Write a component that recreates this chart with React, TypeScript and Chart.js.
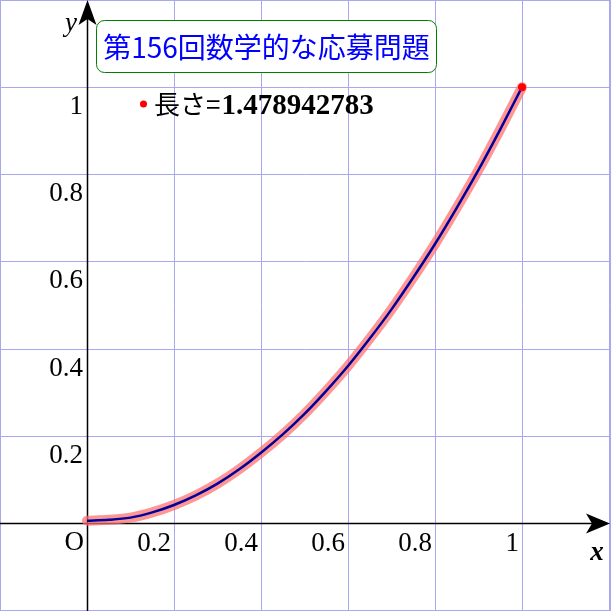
import React, { useEffect, useRef } from "react";
import { Chart, registerables } from "chart.js";

Chart.register(...registerables);

// Curve values
const curveX = [0, 0.05, 0.1, 0.15, 0.2, 0.25, 0.3, 0.35, 0.4, 0.45, 0.5, 0.55, 0.6, 0.65, 0.7, 0.75, 0.8, 0.85, 0.9, 0.95, 1];
const curveY = [0.005, 0.007, 0.012, 0.024, 0.041, 0.063, 0.09, 0.123, 0.161, 0.203, 0.25, 0.303, 0.36, 0.423, 0.49, 0.563, 0.64, 0.723, 0.81, 0.903, 1.0];
const endX = [1];
const endY = [1];

const gridValues = [-0.2, 0, 0.2, 0.4, 0.6, 0.8, 1, 1.2];
const xTickValues = [0.2, 0.4, 0.6, 0.8, 1];
const xTickLabels = ["0.2", "0.4", "0.6", "0.8", "1"];
const yTickValues = [0.2, 0.4, 0.6, 0.8, 1];
const yTickLabels = ["0.2", "0.4", "0.6", "0.8", "1"];

const titleText = "第156回数学的な応募問題";
const legendLabel = "長さ=";
const legendValue = "1.478942783";

const GRID = "#a8a8f0";

const drawPlugin = {
  id: "mathDecor",
  beforeDraw(chart: any) {
    const ctx = chart.ctx;
    ctx.save();
    ctx.fillStyle = "#ffffff";
    ctx.fillRect(0, 0, chart.width, chart.height);
    ctx.restore();
  },
  beforeDatasetsDraw(chart: any) {
    const ctx = chart.ctx;
    const xs = chart.scales.x;
    const ys = chart.scales.y;
    const W = chart.width;
    const H = chart.height;
    ctx.save();
    ctx.strokeStyle = GRID;
    ctx.lineWidth = 1;
    for (const v of gridValues) {
      const px = Math.round(xs.getPixelForValue(v)) + 0.5;
      ctx.beginPath();
      ctx.moveTo(px, 0);
      ctx.lineTo(px, H);
      ctx.stroke();
      const py = Math.round(ys.getPixelForValue(v)) + 0.5;
      ctx.beginPath();
      ctx.moveTo(0, py);
      ctx.lineTo(W, py);
      ctx.stroke();
    }
    ctx.strokeRect(0.5, 0.5, W - 1, H - 1);

    // axes
    const x0 = Math.round(xs.getPixelForValue(0)) + 0.5;
    const y0 = Math.round(ys.getPixelForValue(0)) + 0.5;
    ctx.strokeStyle = "#000000";
    ctx.lineWidth = 1.5;
    ctx.beginPath();
    ctx.moveTo(0, y0);
    ctx.lineTo(W - 14, y0);
    ctx.stroke();
    ctx.beginPath();
    ctx.moveTo(x0, H);
    ctx.lineTo(x0, 14);
    ctx.stroke();
    ctx.fillStyle = "#000000";
    // right arrow
    ctx.beginPath();
    ctx.moveTo(W - 1, y0);
    ctx.lineTo(W - 25, y0 - 10);
    ctx.lineTo(W - 19, y0);
    ctx.lineTo(W - 25, y0 + 10);
    ctx.closePath();
    ctx.fill();
    // top arrow
    ctx.beginPath();
    ctx.moveTo(x0, 0);
    ctx.lineTo(x0 - 9, 25);
    ctx.lineTo(x0, 19);
    ctx.lineTo(x0 + 9, 25);
    ctx.closePath();
    ctx.fill();
    ctx.restore();
  },
  afterDraw(chart: any) {
    const ctx = chart.ctx;
    const xs = chart.scales.x;
    const ys = chart.scales.y;
    const x0 = xs.getPixelForValue(0);
    const y0 = ys.getPixelForValue(0);
    ctx.save();
    ctx.fillStyle = "#000000";
    ctx.font = "27px 'Liberation Serif'";
    ctx.textBaseline = "alphabetic";
    ctx.textAlign = "right";
    xTickValues.forEach((v, i) => {
      ctx.fillText(xTickLabels[i], xs.getPixelForValue(v) - 3, y0 + 28);
    });
    yTickValues.forEach((v, i) => {
      ctx.fillText(yTickLabels[i], x0 - 4, ys.getPixelForValue(v) + 27);
    });
    ctx.fillText("O", x0 - 3, y0 + 27);

    // axis names
    ctx.textAlign = "center";
    ctx.font = "italic bold 27px 'Liberation Serif'";
    ctx.fillText("x", 597, 560);
    ctx.font = "italic 27px 'Liberation Serif'";
    ctx.fillText("y", 71, 31);

    // title box
    ctx.beginPath();
    ctx.roundRect(96.5, 20.5, 340, 52, 8);
    ctx.fillStyle = "#ffffff";
    ctx.fill();
    ctx.strokeStyle = "#008000";
    ctx.lineWidth = 1;
    ctx.stroke();
    ctx.fillStyle = "#0000ff";
    ctx.font = "28px 'Noto Sans CJK JP'";
    ctx.textAlign = "center";
    ctx.textBaseline = "middle";
    ctx.fillText(titleText, 266.5, 47);

    // legend
    ctx.fillStyle = "#ff0000";
    ctx.beginPath();
    ctx.arc(143.5, 104, 3.5, 0, Math.PI * 2);
    ctx.fill();
    ctx.fillStyle = "#000000";
    ctx.textAlign = "left";
    ctx.textBaseline = "alphabetic";
    ctx.font = "26px 'Noto Sans CJK JP'";
    ctx.fillText(legendLabel, 154, 114);
    const w = ctx.measureText(legendLabel).width;
    ctx.font = "bold 29px 'Liberation Serif'";
    ctx.fillText(legendValue, 154 + w + 1, 114);
    ctx.restore();
  },
};

export default function App() {
  const ref = useRef<HTMLCanvasElement | null>(null);
  useEffect(() => {
    if (!ref.current) return;
    const curve = curveX.map((x, i) => ({ x, y: curveY[i] }));
    const ends = endX.map((x, i) => ({ x, y: endY[i] }));
    const chart = new Chart(ref.current, {
      type: "scatter",
      data: {
        datasets: [
          {
            label: "end",
            data: ends,
            pointRadius: 4,
            pointBackgroundColor: "#ff0000",
            pointBorderWidth: 0,
            showLine: false,
            order: 0,
          },
          {
            label: "curve",
            data: curve,
            showLine: true,
            borderColor: "#000099",
            borderWidth: 2.5,
            pointRadius: 0,
            cubicInterpolationMode: "monotone",
            order: 1,
          },
          {
            label: "band",
            data: curve,
            showLine: true,
            borderColor: "rgba(255,110,110,0.72)",
            borderWidth: 10,
            pointRadius: 0,
            cubicInterpolationMode: "monotone",
            borderCapStyle: "round",
            order: 2,
          },
        ],
      },
      options: {
        responsive: false,
        animation: false,
        layout: { autoPadding: false, padding: { left: 0, top: 0, right: 2, bottom: 1 } },
        scales: {
          x: { type: "linear", min: -0.2, max: 1.2, display: false },
          y: { type: "linear", min: -0.2, max: 1.2, display: false },
        },
        plugins: {
          legend: { display: false },
          tooltip: { enabled: false },
        },
        clip: false,
      } as any,
      plugins: [drawPlugin],
    });
    return () => chart.destroy();
  }, []);
  return (
    <div style={{ position: "absolute", left: 0, top: 0, width: 611, height: 611 }}>
      <canvas ref={ref} width={611} height={611} style={{ display: "block", width: 611, height: 611 }} />
    </div>
  );
}
